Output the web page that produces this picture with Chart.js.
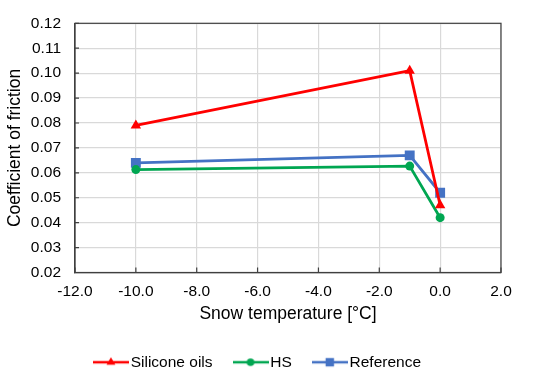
<!DOCTYPE html>
<html>
<head>
<meta charset="utf-8">
<script src="https://cdn.jsdelivr.net/npm/chart.js@4/dist/chart.umd.min.js"></script>
<style>
  html, body { margin: 0; padding: 0; background: #fff; }
  #wrap { width: 536px; height: 388px; position: relative; }
</style>
</head>
<body>
<div id="wrap"><canvas id="chart_friction"></canvas></div>
<script>
// snow temperature (°C) for each measurement
var temps = [-10.0, -1.0, 0.0];
var siliconeOils = [0.079, 0.101, 0.047];
var hs = [0.0613, 0.0627, 0.042];
var reference = [0.064, 0.067, 0.052];

var seriesNames = ['Silicone oils', 'HS', 'Reference'];
var seriesColors = ['#ff0000', '#00a651', '#4472c4'];
var seriesMarkers = ['triangle', 'circle', 'rect'];
var markerSizes = [6, 4.5, 7];

var FONT = "'Liberation Sans', Arial, sans-serif";
var AXIS_COLOR = '#404040';

// legend swatch: a short line with the marker in the middle
function legendIcon(i) {
  var c = document.createElement('canvas');
  c.width = 36; c.height = 14;
  var ctx = c.getContext('2d');
  ctx.strokeStyle = seriesColors[i];
  ctx.fillStyle = seriesColors[i];
  ctx.lineWidth = 2.5;
  ctx.beginPath(); ctx.moveTo(0, 7); ctx.lineTo(36, 7); ctx.stroke();
  Chart.helpers.drawPoint(ctx, { pointStyle: seriesMarkers[i], radius: markerSizes[i] * 0.85, borderWidth: 0 }, 18, 7);
  return c;
}

function toPoints(vals) {
  return vals.map(function (v, k) { return { x: temps[k], y: v }; });
}

var allSeries = [siliconeOils, hs, reference];

var chart_friction = new Chart(document.getElementById('chart_friction'), {
    type: 'line',
    data: {
        datasets: allSeries.map(function (vals, i) {
            return {
                label: seriesNames[i],
                data: toPoints(vals),
                borderColor: seriesColors[i],
                backgroundColor: seriesColors[i],
                borderWidth: 2.8,
                pointStyle: seriesMarkers[i],
                pointRadius: markerSizes[i],
                pointBorderWidth: 0,
                tension: 0
            };
        })
    },
    options: {
        animation: false,
        responsive: true,
        maintainAspectRatio: false,
        layout: { padding: { left: 5, right: 35, top: 23, bottom: 8 } },
        plugins: {
            legend: {
                position: 'bottom',
                labels: {
                    font: { family: FONT, size: 15.5 },
                    color: '#000',
                    usePointStyle: true,
                    pointStyleWidth: 24,
                    padding: 26,
                    generateLabels: function (chart) {
                        return seriesNames.map(function (n, i) {
                            return {
                                text: n, datasetIndex: i, hidden: false,
                                pointStyle: legendIcon(i),
                                fillStyle: seriesColors[i], strokeStyle: seriesColors[i],
                                fontColor: '#000'
                            };
                        });
                    }
                }
            },
            tooltip: { enabled: false }
        },
        scales: {
            x: {
                type: 'linear',
                min: -12,
                max: 2,
                ticks: {
                    stepSize: 2,
                    font: { family: FONT, size: 15.5 },
                    color: '#000',
                    padding: 10,
                    callback: function (v) { return v.toFixed(1); }
                },
                grid: { color: '#d9d9d9', lineWidth: 1.2, drawTicks: false },
                border: { color: AXIS_COLOR, width: 1.2 },
                title: {
                    display: true,
                    text: 'Snow temperature [°C]',
                    font: { family: FONT, size: 17.5 },
                    color: '#000',
                    padding: { top: 0, bottom: 4 }
                },
                afterFit: function (scale) { scale.height = 56; }
            },
            y: {
                min: 0.02,
                max: 0.12,
                ticks: {
                    stepSize: 0.01,
                    font: { family: FONT, size: 15.5 },
                    color: '#000',
                    padding: 14,
                    callback: function (v) { return v.toFixed(2); }
                },
                grid: { color: '#d9d9d9', lineWidth: 1.2, drawTicks: false },
                border: { color: AXIS_COLOR, width: 1.2 },
                title: {
                    display: true,
                    text: 'Coefficient of friction',
                    font: { family: FONT, size: 17.5 },
                    color: '#000',
                    padding: { top: 0, bottom: 0 }
                },
                afterFit: function (scale) { scale.width = 70; }
            }
        }
    },
    plugins: [{
        id: 'legendShift',
        afterLayout: function (chart) {
            // legend sits a little right of centre in the original
            chart.legend.left += 7;
            chart.legend.right += 7;
        }
    }, {
        id: 'frame',
        afterDraw: function (chart) {
            var a = chart.chartArea, ctx = chart.ctx;
            var xs = chart.scales.x, ys = chart.scales.y;
            ctx.save();
            ctx.strokeStyle = AXIS_COLOR;
            ctx.lineWidth = 1.2;
            ctx.strokeRect(a.left, a.top, a.right - a.left, a.bottom - a.top);
            // short inside tick marks like the original
            ctx.beginPath();
            ys.ticks.forEach(function (t) {
                var y = ys.getPixelForValue(t.value);
                ctx.moveTo(a.left, y); ctx.lineTo(a.left + 4, y);
            });
            xs.ticks.forEach(function (t) {
                var x = xs.getPixelForValue(t.value);
                ctx.moveTo(x, a.bottom); ctx.lineTo(x, a.bottom - 5);
            });
            ctx.stroke();
            ctx.restore();
        }
    }, {
        id: 'white',
        beforeDraw: function (chart) {
            var ctx = chart.ctx;
            ctx.save();
            ctx.fillStyle = 'white';
            ctx.fillRect(0, 0, chart.width, chart.height);
            ctx.restore();
        }
    }]
});
</script>
</body>
</html>
